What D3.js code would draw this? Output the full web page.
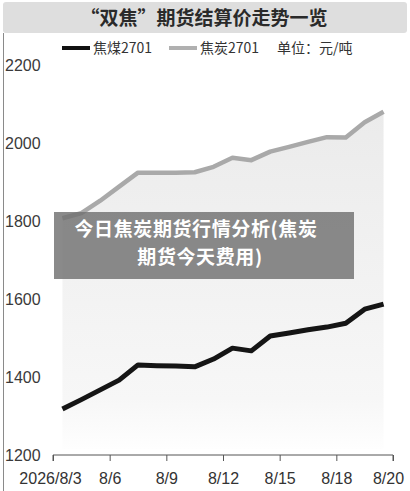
<!DOCTYPE html>
<html>

<head>
  <meta charset="UTF-8">
  <title>双焦期货结算价</title>
  <script src="https://d3js.org/d3.v7.min.js"></script>
  <style>
    body { margin: 0; background: #fff; }
    svg { display: block; }
  </style>
</head>

<body>
  <svg></svg>
</body>

<script>
  let width = 410,
    height = 491;

  // values (18 settlement days)
  let cokingCoal = [1318, 1342, 1367, 1392, 1431, 1429, 1428, 1426, 1446, 1474,
    1467, 1505, 1513, 1521, 1528, 1538, 1574, 1587];
  let coke = [1807, 1820, 1852, 1888, 1924, 1924, 1924, 1925, 1939, 1962,
    1956, 1978, 1990, 2003, 2015, 2014, 2053, 2080];
  let tickLabels = ["2026/8/3", "8/6", "8/9", "8/12", "8/15", "8/18", "8/20"];
  let yTicks = [1200, 1400, 1600, 1800, 2000, 2200];

  let svg = d3.select("svg")
    .attr("width", width)
    .attr("height", height)
    .style("font-family", "'Noto Sans CJK SC', 'Liberation Sans', sans-serif");

  // category boundaries at 0..18, points sit in the middle of each slot
  let x = d3.scaleLinear().domain([0, cokingCoal.length]).range([53, 393]);
  let y = d3.scaleLinear().domain([1200, 2200]).range([455, 65]);

  // frame line on the left
  svg.append("line")
    .attr("x1", 3.5).attr("x2", 3.5)
    .attr("y1", 33).attr("y2", height)
    .attr("stroke", "#8a8a8a");

  // title bar
  svg.append("rect")
    .attr("x", 3).attr("y", 2)
    .attr("width", 404).attr("height", 31)
    .attr("rx", 3)
    .attr("fill", "#dedede");

  svg.append("text")
    .attr("x", 204).attr("y", 25)
    .attr("text-anchor", "middle")
    .attr("font-size", 19)
    .attr("font-weight", "bold")
    .attr("fill", "#2a2a2a")
    .text("“双焦”期货结算价走势一览");

  // legend
  let legend = svg.append("g").attr("font-size", 14).attr("fill", "#333");
  legend.append("line").attr("x1", 62).attr("x2", 90).attr("y1", 48).attr("y2", 48)
    .attr("stroke", "#111").attr("stroke-width", 4);
  legend.append("text").attr("x", 93).attr("y", 53).text("焦煤2701");
  legend.append("line").attr("x1", 169).attr("x2", 197).attr("y1", 48).attr("y2", 48)
    .attr("stroke", "#b0b0b0").attr("stroke-width", 4);
  legend.append("text").attr("x", 200).attr("y", 53).text("焦炭2701");
  legend.append("text").attr("x", 277).attr("y", 53).text("单位：元/吨");

  // area fill under the coke line
  let grad = svg.append("defs").append("linearGradient")
    .attr("id", "fade")
    .attr("x1", 0).attr("x2", 0).attr("y1", 0).attr("y2", 1);
  grad.append("stop").attr("offset", "0%").attr("stop-color", "#ebebeb");
  grad.append("stop").attr("offset", "85%").attr("stop-color", "#f7f7f7");
  grad.append("stop").attr("offset", "100%").attr("stop-color", "#fefefe");

  let area = d3.area()
    .x((d, i) => x(i + 0.5))
    .y0(y(1215))
    .y1(d => y(d));

  svg.append("path")
    .datum(coke)
    .attr("d", area)
    .attr("fill", "url(#fade)");

  // y labels (no axis line)
  svg.append("g")
    .selectAll("text")
    .data(yTicks)
    .enter()
    .append("text")
    .attr("x", 5)
    .attr("y", d => y(d) + 6)
    .attr("font-family", "'Liberation Sans', Arial, sans-serif")
    .attr("font-size", 16)
    .attr("fill", "#3a3a3a")
    .text(d => d);

  // x axis
  let xAxis = d3.axisBottom(x)
    .tickValues(d3.range(0, cokingCoal.length + 1, 3))
    .tickSize(6)
    .tickPadding(12)
    .tickFormat((d, i) => tickLabels[i]);

  let gx = svg.append("g")
    .attr("transform", "translate(0," + y(1200) + ")")
    .call(xAxis);
  gx.select(".domain").attr("stroke", "#555").attr("d", "M53,6V0H393V6");
  gx.selectAll(".tick line").attr("stroke", "#555");
  gx.selectAll(".tick text")
    .attr("font-family", "'Liberation Sans', Arial, sans-serif")
    .attr("font-size", 16)
    .attr("fill", "#333");
  gx.select(".tick text").attr("dx", -3);
  gx.select(".tick:last-of-type text").attr("dx", -5);

  let line = d3.line()
    .x((d, i) => x(i + 0.5))
    .y(d => y(d));

  svg.append("path")
    .datum(coke)
    .attr("d", line)
    .attr("fill", "none")
    .attr("stroke", "#a9a9a9")
    .attr("stroke-width", 4.5)
    .attr("stroke-linejoin", "round");

  svg.append("path")
    .datum(cokingCoal)
    .attr("d", line)
    .attr("fill", "none")
    .attr("stroke", "#151515")
    .attr("stroke-width", 5)
    .attr("stroke-linejoin", "round");

  // caption overlay
  svg.append("rect")
    .attr("x", 54).attr("y", 212)
    .attr("width", 300).attr("height", 67)
    .attr("fill", "#707070")
    .attr("opacity", 0.82);

  let cap = svg.append("g")
    .attr("text-anchor", "middle")
    .attr("font-size", 19)
    .attr("font-weight", "bold")
    .attr("letter-spacing", 0.6)
    .attr("fill", "#fff");
  cap.append("text").attr("x", 196).attr("y", 236).text("今日焦炭期货行情分析(焦炭");
  cap.append("text").attr("x", 200).attr("y", 264).text("期货今天费用)");
</script>
</html>
